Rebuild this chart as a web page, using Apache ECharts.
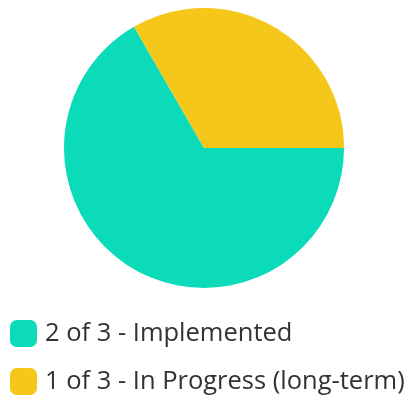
<!DOCTYPE html>
<html><head><meta charset="utf-8">
<script src="https://cdn.jsdelivr.net/npm/echarts@6/dist/echarts.min.js"></script>
<style>html,body{margin:0;padding:0;background:#fff}#c{width:409px;height:400px}</style>
</head><body><div id="c"></div>
<script>
const categories = ["2 of 3 - Implemented", "1 of 3 - In Progress (long-term)"];
const values = [2, 1];
const colors = ["#0BDBB8", "#F5C71A"];
const chart = echarts.init(document.getElementById('c'));
chart.setOption({
  animation: false,
  color: colors,
  legend: {
    orient: 'vertical', left: 10, top: 320, padding: 0,
    icon: 'roundRect', itemWidth: 27, itemHeight: 27, itemGap: 21,
    textStyle: {fontFamily: 'Open Sans', fontSize: 25.5, lineHeight: 27, color: '#333', padding: [0,0,0,3]},
    data: categories
  },
  series: [{
    type: 'pie', center: [204, 148], radius: 140,
    startAngle: 0, clockwise: true,
    label: {show: false}, labelLine: {show: false},
    data: categories.map((n, i) => ({name: n, value: values[i]}))
  }]
});
</script></body></html>
